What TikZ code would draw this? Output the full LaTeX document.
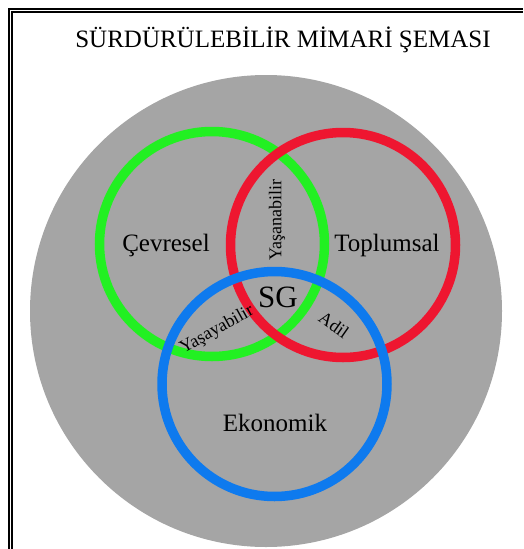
\documentclass[tikz,border=0pt]{standalone}
\usepackage{fontspec}
\setmainfont{Liberation Serif}
\definecolor{ringgreen}{HTML}{22F022}
\definecolor{ringred}{HTML}{EE1630}
\definecolor{ringblue}{HTML}{0E7AEE}
\definecolor{bggray}{HTML}{A5A5A5}
\tikzset{
  ring/.style={circle, line width=9.5pt, minimum size=225pt, inner sep=0pt},
  biglabel/.style={inner sep=0pt, font=\fontsize{25}{30}\selectfont},
  smalllabel/.style={inner sep=0pt, font=\fontsize{18}{21}\selectfont}
}
\begin{document}
\begin{tikzpicture}[x=1pt, y=-1pt]
  \useasboundingbox (0,0) rectangle (523,549);
  % Draw the frame
  \draw[line width=2.3pt] (9.2,549) -- (9.2,9.2) -- (523,9.2);
  \draw[line width=1.3pt] (11.9,549) -- (11.9,11.9) -- (523,11.9);
  \node[biglabel] (title) at (283,40) {SÜRDÜRÜLEBİLİR MİMARİ ŞEMASI};
  % Draw the background and the rings
  \node[circle, fill=bggray, minimum size=472pt, inner sep=0pt] (bg) at (266,311) {};
  \node[ring, draw=ringgreen] (cevre) at (212,244) {};
  \node[ring, draw=ringred] (toplum) at (343,245) {};
  \node[ring, draw=ringblue] (ekonomi) at (274.5,384) {};
  \node[biglabel] (cevrelbl) at (166,245) {Çevresel};
  \node[biglabel] (toplumlbl) at (387,245) {Toplumsal};
  \node[biglabel] (ekonomilbl) at (275,423) {Ekonomik};
  \node[inner sep=0pt, font=\fontsize{31}{36}\selectfont] (sg) at (278,297) {SG};
  \node[smalllabel, rotate=90] (yasanabilir) at (277,220) {Yaşanabilir};
  \node[smalllabel, rotate=29] (yasayabilir) at (217,330) {Yaşayabilir};
  \node[smalllabel, rotate=-35] (adil) at (334,325) {Adil};
\end{tikzpicture}
\end{document}
